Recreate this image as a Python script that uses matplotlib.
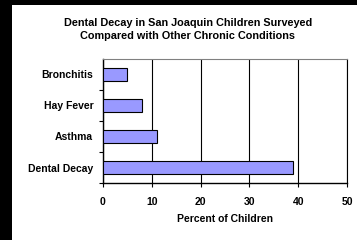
import matplotlib
matplotlib.use("Agg")
import matplotlib.pyplot as plt
from matplotlib.patches import Rectangle

categories = ["Dental Decay", "Asthma", "Hay Fever", "Bronchitis"]
values = [39, 11, 8, 5]
xticks = [0, 10, 20, 30, 40, 50]

W, H = 357, 240
dpi = 100
plt.rcParams['font.family'] = ['Liberation Sans', 'DejaVu Sans']
fig = plt.figure(figsize=(W / dpi, H / dpi), dpi=dpi, facecolor='black')
bg = Rectangle((12 / W, 0), 1 - 12 / W, 1 - 5 / H, transform=fig.transFigure,
               facecolor='white', edgecolor='none', zorder=-10)
fig.add_artist(bg)

x0, x1, y0, y1 = 103, 347, 59, 183
ax = fig.add_axes([x0 / W, 1 - y1 / H, (x1 - x0) / W, (y1 - y0) / H], zorder=5)
ax.set_facecolor('white')
pos = list(range(len(categories)))
ax.barh(pos, values, height=0.42, color='#9999FF', edgecolor='black', linewidth=0.8, zorder=3)
ax.set_xlim(0, 50)
ax.set_ylim(-0.5, len(categories) - 0.5)
ax.set_xticks(xticks)
ax.set_xticklabels([str(t) for t in xticks], fontsize=7.5, fontweight='bold')
ax.set_yticks(pos)
ax.set_yticklabels(categories, fontsize=7.5, fontweight='bold')
ax.tick_params(axis='y', length=0, pad=7)
ax.set_yticks([p + 0.5 for p in pos[:-1]] + [-0.5], minor=True)
ax.tick_params(axis='y', which='minor', length=3, width=0.8, direction='out')
ax.tick_params(axis='x', length=3, width=0.8, direction='out', pad=7)
ax.xaxis.grid(True, color='black', linewidth=0.8, zorder=1)
ax.set_axisbelow(True)
for s in ['left', 'bottom']:
    ax.spines[s].set_color('black')
    ax.spines[s].set_linewidth(1.0)
ax.spines['top'].set_color('#808080')
ax.spines['top'].set_linewidth(0.8)
ax.spines['right'].set_color('black')
ax.spines['right'].set_linewidth(0.8)
ax.set_xlabel("Percent of Children", fontsize=7.5, fontweight='bold', labelpad=5)
fig.text(188 / W, 1 - 29.5 / H,
         "Dental Decay in San Joaquin Children Surveyed\nCompared with Other Chronic Conditions",
         ha='center', va='center', fontsize=7.8, fontweight='bold', linespacing=1.45)
fig.savefig("out.png", dpi=dpi, facecolor='black')
